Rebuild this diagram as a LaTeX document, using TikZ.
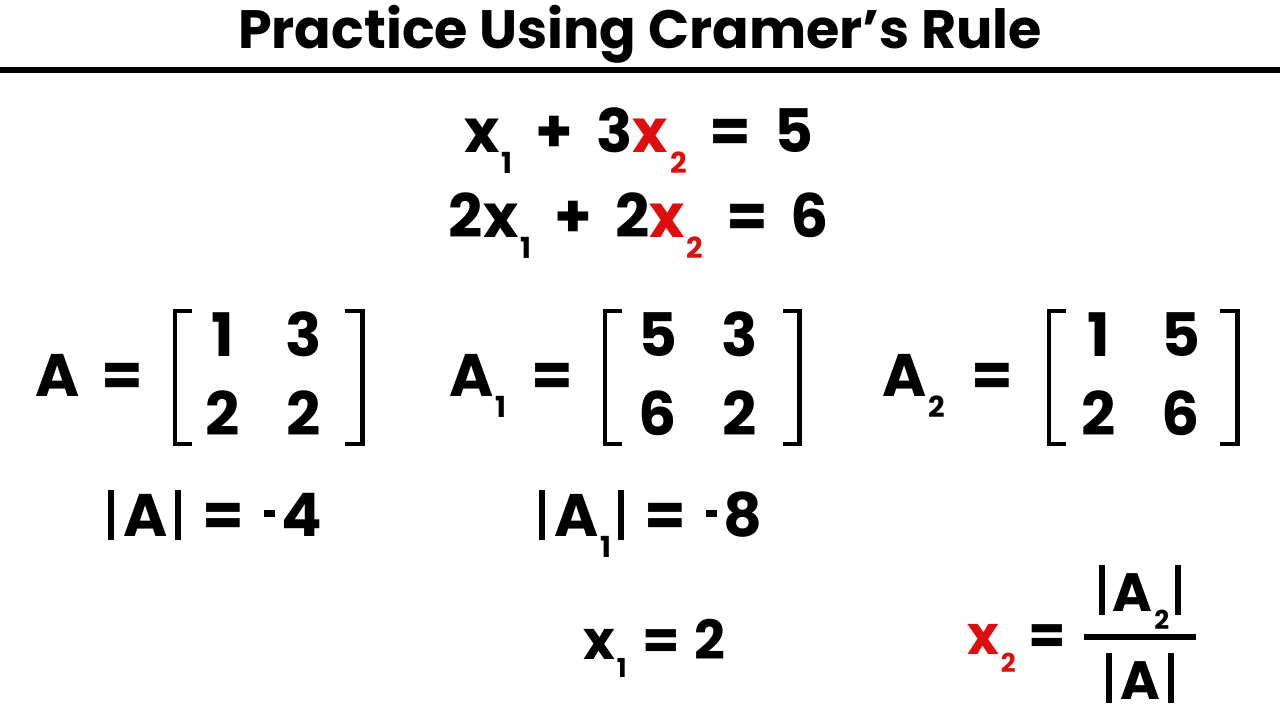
\documentclass[tikz,border=0pt]{standalone}
\usepackage{fontspec}
\setmainfont{Poppins}
\definecolor{eqred}{RGB}{221,14,14}
\newcommand\sbs[1]{\hspace{2pt}\raisebox{-21pt}{\fontsize{29pt}{29pt}\selectfont #1}}
\newcommand\sbb[1]{\hspace{2pt}\raisebox{-18pt}{\fontsize{26pt}{26pt}\selectfont #1}}
\newcommand\vb{\rule[-3pt]{6pt}{50pt}}
\newcommand\mn{\rule[20pt]{11pt}{7pt}}
\newcommand\gp{\hspace{23pt}}
\begin{document}
\begin{tikzpicture}[x=1pt,y=1pt,
  txt/.style={inner sep=0pt, font=\fontsize{60pt}{60pt}\selectfont\bfseries},
  sml/.style={inner sep=0pt, font=\fontsize{54pt}{54pt}\selectfont\bfseries},
  ttl/.style={inner sep=0pt, font=\fontsize{54pt}{54pt}\selectfont\bfseries},
  brk/.style={line width=4.5pt, line join=miter, line cap=butt}]
\useasboundingbox (0,0) rectangle (1280,720);
\fill[white] (0,0) rectangle (1280,720);
% title
\node[ttl, anchor=base] (title) at (640,671) {Practice Using Cramer’s Rule};
\draw[line width=6pt] (0,650) -- (1280,650);
% equations
\node[txt, anchor=base] (eq1) at (639,567) {x\sbs{1}\gp+\gp3{\color{eqred}x\sbs{2}}\gp=\gp5};
\node[txt, anchor=base] (eq2) at (639,482) {2x\sbs{1}\gp+\gp2{\color{eqred}x\sbs{2}}\gp=\gp6};
% matrix A
\node[txt, anchor=base west] (lA) at (35,323) {A};
\node[txt, anchor=base] (eA) at (122,323) {=};
\draw[brk] (192,409) -- (175,409) -- (175,276) -- (192,276);
\draw[brk] (345,409) -- (362.5,409) -- (362.5,276) -- (345,276);
\node[txt, anchor=base] (a11) at (223,363) {1};
\node[txt, anchor=base] (a12) at (304,363) {3};
\node[txt, anchor=base] (a21) at (223,284) {2};
\node[txt, anchor=base] (a22) at (304,284) {2};
% matrix A1
\node[txt, anchor=base west] (lA1) at (449,323) {A\sbs{1}};
\node[txt, anchor=base] (eA1) at (552,323) {=};
\draw[brk] (622,409) -- (605,409) -- (605,276) -- (622,276);
\draw[brk] (783,409) -- (799.5,409) -- (799.5,276) -- (783,276);
\node[txt, anchor=base] (b11) at (658,363) {5};
\node[txt, anchor=base] (b12) at (740,363) {3};
\node[txt, anchor=base] (b21) at (658,284) {6};
\node[txt, anchor=base] (b22) at (740,284) {2};
% matrix A2
\node[txt, anchor=base west] (lA2) at (882,323) {A\sbs{2}};
\node[txt, anchor=base] (eA2) at (992,323) {=};
\draw[brk] (1066,409) -- (1049,409) -- (1049,276) -- (1066,276);
\draw[brk] (1220,409) -- (1237.5,409) -- (1237.5,276) -- (1220,276);
\node[txt, anchor=base] (c11) at (1099,363) {1};
\node[txt, anchor=base] (c12) at (1181,363) {5};
\node[txt, anchor=base] (c21) at (1099,284) {2};
\node[txt, anchor=base] (c22) at (1181,284) {6};
% determinants
\node[txt, anchor=base west] (dA) at (108,183) {\vb\hspace{9pt}A\hspace{8pt}\vb\hspace{21pt}=\hspace{20pt}\mn\hspace{6pt}4};
\node[txt, anchor=base west] (dA1) at (539,183) {\vb\hspace{9pt}A\sbs{1}\hspace{7pt}\vb\hspace{20pt}=\hspace{20pt}\mn\hspace{6pt}8};
% results
\node[sml, anchor=base west] (x1) at (583,60) {x\sbb{1}\hspace{16pt}=\hspace{14pt}2};
\node[sml, anchor=base west, text=eqred] (x2) at (967,65) {x\sbb{2}};
\node[sml, anchor=base] (ex2) at (1047,65) {=};
\coordinate (fl) at (1084,83);
\coordinate (fr) at (1196,83);
\draw[line width=5.5pt] (fl) -- (fr);
\node[sml, anchor=base] (num) at (1140,108) {\vb\hspace{8pt}A\sbb{2}\hspace{6pt}\vb};
\node[sml, anchor=base] (den) at (1140,20) {\vb\hspace{8pt}A\hspace{8pt}\vb};
\end{tikzpicture}
\end{document}
